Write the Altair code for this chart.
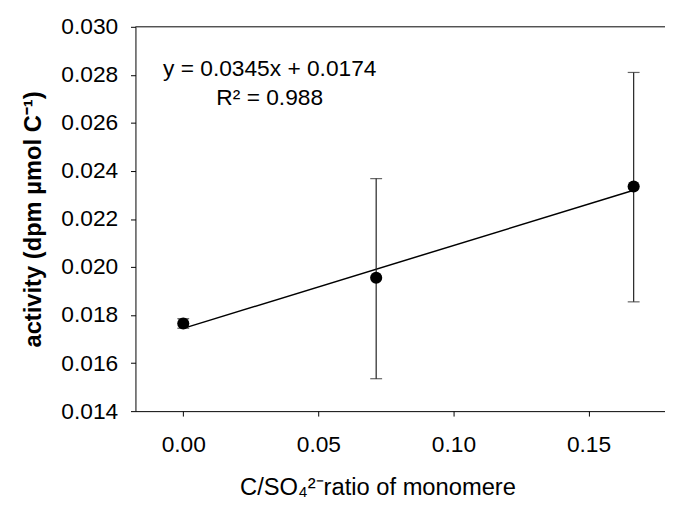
import altair as alt
import pandas as pd

# data
ratio = [0.0, 0.0714, 0.1667]
activity = [0.01765, 0.01955, 0.02335]
err_low = [0.01745, 0.01535, 0.01855]
err_high = [0.01785, 0.02368, 0.02810]

x_ticks = [0.0, 0.05, 0.10, 0.15]
y_ticks = [0.014, 0.016, 0.018, 0.020, 0.022, 0.024, 0.026, 0.028, 0.030]
x_domain = [-0.0177, 0.1783]
y_domain = [0.014, 0.030]

ann_text = ["y = 0.0345x + 0.0174", "R\u00b2 = 0.988"]
ann_x = [0.032, 0.032]
ann_y = [0.02796, 0.02676]

FONT = "Liberation Sans"
W, H = 536, 389

df = pd.DataFrame({"x": ratio, "y": activity, "lo": err_low, "hi": err_high})
ann = pd.DataFrame({"x": ann_x, "y": ann_y, "t": ann_text})

xs = alt.Scale(domain=x_domain, nice=False, zero=False)
ys = alt.Scale(domain=y_domain, nice=False, zero=False)

xaxis = alt.Axis(values=x_ticks, format=".2f", title="C/SO\u2084\u00b2\u207bratio of monomere",
                 titleX=245, titleY=84, titleBaseline="alphabetic", titleFontWeight="normal",
                 titleFontSize=24, labelPadding=18)
yaxis = alt.Axis(values=y_ticks, format=".3f", title="activity (dpm \u00b5mol C\u207b\u00b9)",
                 titleFontWeight="bold", titleFontSize=24, titlePadding=16, labelPadding=13)

base = alt.Chart(df)

pts = base.mark_point(filled=True, size=150, color="black", opacity=1).encode(
    x=alt.X("x:Q", scale=xs, axis=xaxis),
    y=alt.Y("y:Q", scale=ys, axis=yaxis),
)

reg = base.transform_regression("x", "y").mark_line(color="black", strokeWidth=1.5).encode(
    x="x:Q", y="y:Q"
)

bars = base.mark_rule(color="#222", strokeWidth=1.2).encode(
    x="x:Q", y="lo:Q", y2="hi:Q"
)
cap_lo = base.mark_tick(orient="horizontal", size=12, thickness=1.2, color="#222").encode(
    x="x:Q", y="lo:Q"
)
cap_hi = base.mark_tick(orient="horizontal", size=12, thickness=1.2, color="#222").encode(
    x="x:Q", y="hi:Q"
)

top = alt.Chart(pd.DataFrame({"y": [y_domain[1]]})).mark_rule(color="black", strokeWidth=1).encode(
    y="y:Q", x=alt.value(0), x2=alt.value(W)
)

txt = alt.Chart(ann).mark_text(font=FONT, fontSize=23, align="center", baseline="alphabetic",
                               color="black").encode(
    x="x:Q", y="y:Q", text="t:N"
)

chart = alt.layer(top, reg, bars, cap_lo, cap_hi, pts, txt).properties(
    width=W, height=H,
    autosize=alt.AutoSizeParams(type="none"),
    padding={"left": 129, "top": 16, "right": 0, "bottom": 95},
).configure_view(stroke=None).configure_axis(
    grid=False, domainColor="black", tickColor="black", labelColor="black", titleColor="black",
    labelFont=FONT, titleFont=FONT, labelFontSize=23, tickSize=5, domainWidth=1, tickWidth=1,
)

chart.save("out.html", embed_options={"renderer": "svg", "actions": False})
